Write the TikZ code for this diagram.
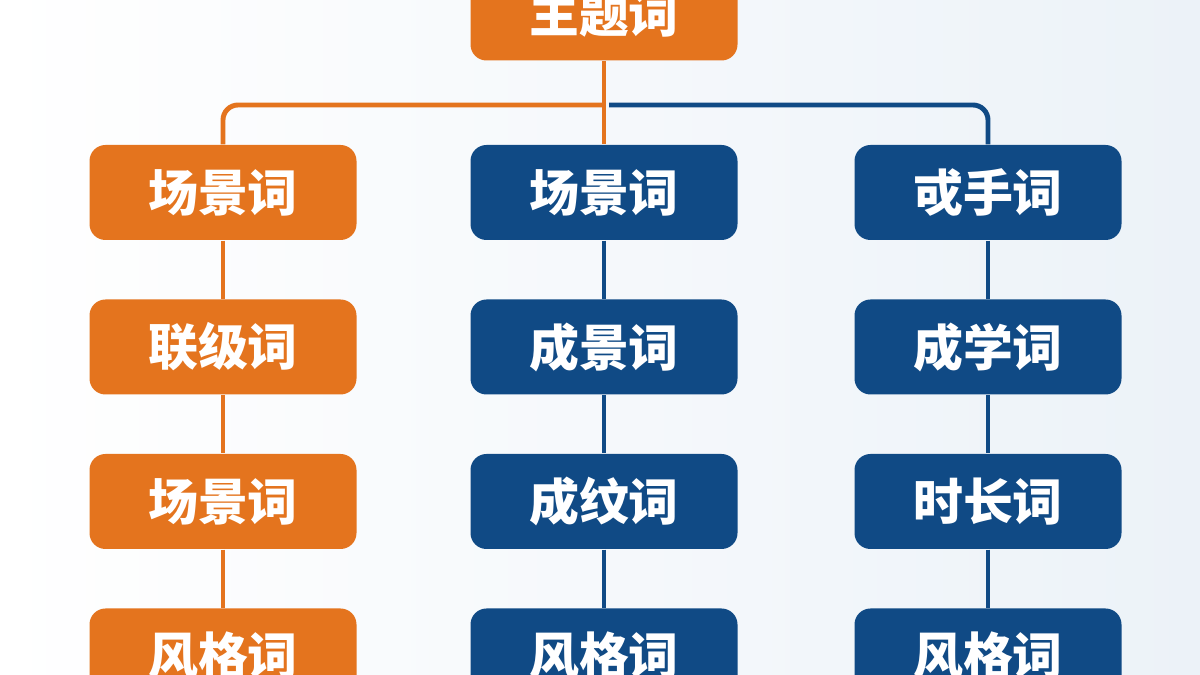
\documentclass[tikz,border=0pt]{standalone}
\usepackage{fontspec}
\newfontfamily\cjk{Noto Sans CJK SC}
\usepackage{tikz}
\definecolor{topicorange}{RGB}{228,116,30}
\definecolor{topicblue}{RGB}{16,74,133}
\definecolor{bgblue}{RGB}{236,242,248}

\begin{document}
\begin{tikzpicture}[
    wordbox/.style={rectangle, rounded corners=0.16cm, minimum width=2.67cm,
        minimum height=0.95cm, text=white, font=\cjk\bfseries\fontsize{14.2}{16}\selectfont},
    orangebox/.style={wordbox, fill=topicorange},
    bluebox/.style={wordbox, fill=topicblue},
    orangeline/.style={draw=topicorange, line width=1.4pt},
    blueline/.style={draw=topicblue, line width=1.4pt}
]

\useasboundingbox (0,0) rectangle (12,6.75);
\clip (0,0) rectangle (12,6.75);
\shade[left color=white, right color=bgblue] (0,0) rectangle (12,6.75);

% top node and the bus
\node[orangebox] (top) at (6.04,6.62) {主题词};
\coordinate (bus) at (6.04,5.70);

% three columns
\foreach \t [count=\i] in {场景词,联级词,场景词,风格词}
    \node[orangebox] (l\i) at (2.23,6.37-1.545*\i) {\t};

\foreach \t [count=\i] in {场景词,成景词,成纹词,风格词}
    \node[bluebox] (m\i) at (6.04,6.37-1.545*\i) {\t};

\foreach \t [count=\i] in {戓手词,成学词,时长词,风格词}
    \node[bluebox] (r\i) at (9.88,6.37-1.545*\i) {\t};

% connectors
\draw[orangeline] (top.south) -- (m1.north);
\draw[orangeline, rounded corners=0.15cm] (bus) -| (l1.north);
\draw[blueline, rounded corners=0.15cm] ([xshift=0.05cm]bus) -| (r1.north);

\foreach \i [evaluate=\i as \j using int(\i+1)] in {1,2,3} {
    \draw[orangeline] (l\i.south) -- (l\j.north);
    \draw[blueline] (m\i.south) -- (m\j.north);
    \draw[blueline] (r\i.south) -- (r\j.north);
}

\end{tikzpicture}
\end{document}
